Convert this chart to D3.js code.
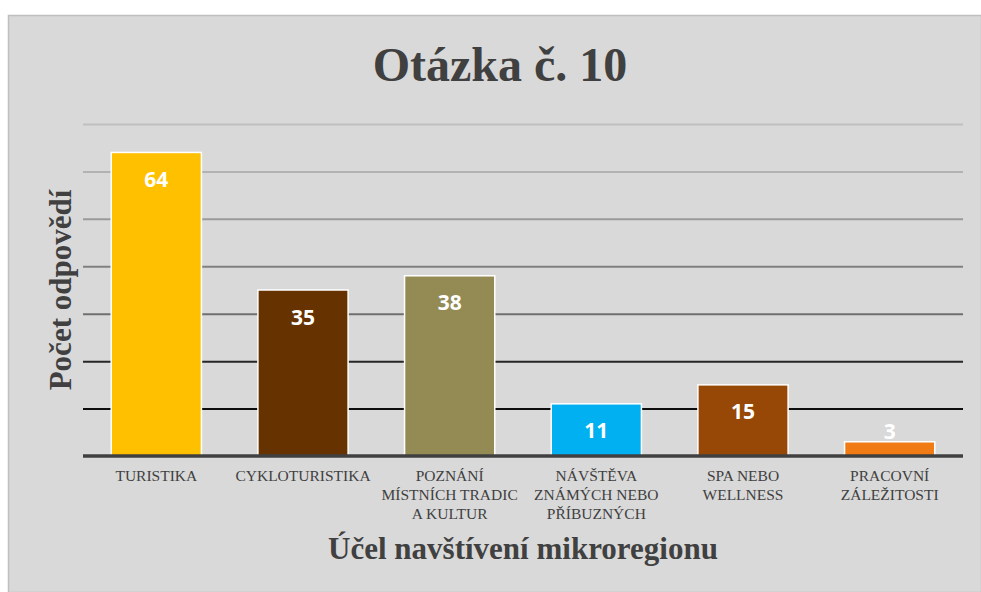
<!DOCTYPE html>
<html>
<head>
<meta charset="utf-8">
<script src="https://cdn.jsdelivr.net/npm/d3@7"></script>
<style>
  html, body { margin: 0; padding: 0; background: #ffffff; }
  svg { display: block; }
</style>
</head>
<body>
<svg id="chart" width="981" height="592"></svg>
<script>
const categories = [
  ["TURISTIKA"],
  ["CYKLOTURISTIKA"],
  ["POZNÁNÍ", "MÍSTNÍCH TRADIC", "A KULTUR"],
  ["NÁVŠTĚVA", "ZNÁMÝCH NEBO", "PŘÍBUZNÝCH"],
  ["SPA NEBO", "WELLNESS"],
  ["PRACOVNÍ", "ZÁLEŽITOSTI"]
];
const values = [64, 35, 38, 11, 15, 3];
const yTicks = [0, 10, 20, 30, 40, 50, 60, 70];
const title = "Otázka č. 10";
const yTitle = "Počet odpovědí";
const xTitle = "Účel navštívení mikroregionu";

const barColors = ["#FFC000", "#663300", "#948A54", "#00B0F0", "#974706", "#F07A14"];
const gridColors = ["#3f3f3f", "#0d0d0d", "#262626", "#6f6f6f", "#808080", "#9a9a9a", "#b2b2b2", "#c0c0c0"];

const svg = d3.select("#chart");
const W = 981, H = 592;
const serif = "'Liberation Serif', 'Times New Roman', serif";

// chart background
svg.append("rect").attr("x", 8.5).attr("y", 15.5).attr("width", W - 8).attr("height", H - 15)
  .attr("fill", "#d9d9d9").attr("stroke", "#bfbfbf").attr("stroke-width", 1.5);

const plot = { left: 83, right: 963, top: 124, bottom: 456 };
const keys = categories.map((c, i) => i);

const x = d3.scaleBand().domain(keys).range([plot.left, plot.right]).paddingInner(0.385).paddingOuter(0.1925);
const y = d3.scaleLinear().domain([0, 70]).range([plot.bottom, plot.top]);

// gridlines
const grid = svg.append("g").attr("transform", `translate(${plot.left},0)`)
  .call(d3.axisLeft(y).tickValues(yTicks).tickSize(-(plot.right - plot.left)).tickFormat(""));
grid.select(".domain").remove();
grid.selectAll(".tick line")
  .attr("stroke", (d, i) => gridColors[i])
  .attr("stroke-width", (d) => d === 0 ? 0 : 2);

// bars
svg.append("g").selectAll("rect").data(values).join("rect")
  .attr("x", (d, i) => x(i))
  .attr("y", d => y(d))
  .attr("width", x.bandwidth())
  .attr("height", d => y(0) - y(d))
  .attr("fill", (d, i) => barColors[i])
  .attr("stroke", "#ffffff").attr("stroke-width", 1.5);

// baseline axis
const xAxis = svg.append("g").attr("transform", `translate(0,${y(0)})`)
  .call(d3.axisBottom(x).tickSize(0).tickFormat(""));
xAxis.select(".domain").attr("stroke", "#404040").attr("stroke-width", 3.5)
  .attr("d", `M${plot.left},0H${plot.right}`);

// data labels
svg.append("g").selectAll("text").data(values).join("text")
  .attr("x", (d, i) => x(i) + x.bandwidth() / 2)
  .attr("y", d => Math.min(y(d) + 27, y(0) - 25))
  .attr("dy", "0.36em")
  .attr("text-anchor", "middle")
  .attr("font-family", "'Open Sans', sans-serif")
  .attr("font-weight", "bold")
  .attr("font-size", 21)
  .attr("fill", "#ffffff")
  .text(d => d);

// category labels
const catG = svg.append("g");
categories.forEach((lines, i) => {
  const t = catG.append("text")
    .attr("x", x(i) + x.bandwidth() / 2)
    .attr("y", 481)
    .attr("text-anchor", "middle")
    .attr("font-family", serif)
    .attr("font-size", 15.5)
    .attr("fill", "#404040");
  lines.forEach((ln, j) => {
    t.append("tspan").attr("x", x(i) + x.bandwidth() / 2).attr("dy", j === 0 ? 0 : 19).text(ln);
  });
});

// title
svg.append("text").attr("x", 500).attr("y", 81)
  .attr("text-anchor", "middle")
  .attr("font-family", serif)
  .attr("font-weight", "bold").attr("font-size", 48)
  .attr("fill", "#404040").text(title);

// y title
svg.append("text")
  .attr("transform", "translate(71,290) rotate(-90)")
  .attr("text-anchor", "middle")
  .attr("font-family", serif)
  .attr("font-weight", "bold").attr("font-size", 31)
  .attr("fill", "#404040").text(yTitle);

// x title
svg.append("text").attr("x", 523).attr("y", 559)
  .attr("text-anchor", "middle")
  .attr("font-family", serif)
  .attr("font-weight", "bold").attr("font-size", 31)
  .attr("fill", "#404040").text(xTitle);
</script>
</body>
</html>
